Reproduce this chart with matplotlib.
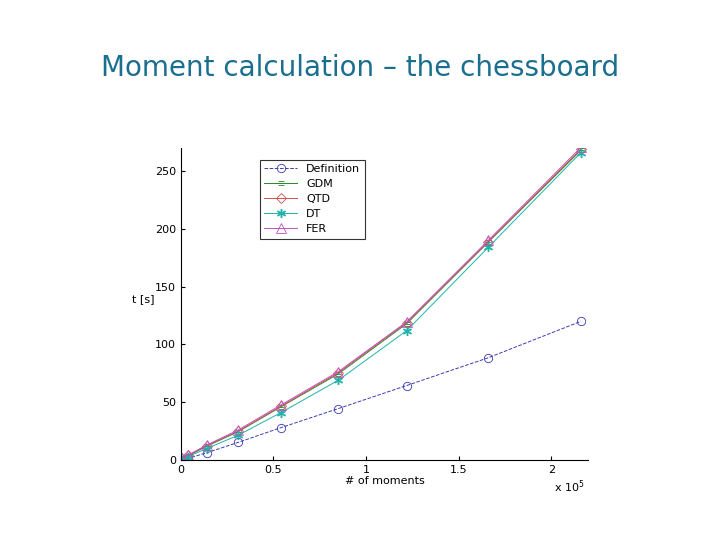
import matplotlib.pyplot as plt

x = [0.005, 0.04, 0.14, 0.31, 0.54, 0.85, 1.22, 1.66, 2.16]
t_def = [0, 1.5, 6.3, 15.3, 28, 44.5, 64.5, 88.5, 120]
t_gdm = [0.8, 3.6, 12, 24.5, 46, 74.5, 118, 188.5, 268]
t_qtd = [1, 4, 12.5, 25, 46.5, 75.5, 119, 189, 269]
t_dt = [0.5, 3, 10, 21.5, 41, 69, 112, 184, 266]
t_fer = [1.5, 4.3, 13, 26, 47.6, 76.4, 119.6, 190, 270.5]

fig = plt.figure(figsize=(7.2, 5.4), dpi=100)
fig.text(0.5, 0.874, 'Moment calculation – the chessboard', ha='center', va='center',
         fontsize=20, color='#1a6e8e')
ax = fig.add_axes([0.251, 0.148, 0.566, 0.578])
kw = dict(lw=0.7, mew=0.6)
ax.plot(x, t_def, color='#3b3bb0', ls='--', marker='o', mfc='none', ms=6, label='Definition', **kw)
ax.plot(x, t_gdm, color='#228b22', marker='$\\equiv$', ms=5, label='GDM', **kw)
ax.plot(x, t_qtd, color='#d05050', marker='D', mfc='none', ms=5, label='QTD', **kw)
ax.plot(x, t_dt, color='#20b2aa', marker='$*$', ms=6, label='DT', **kw)
ax.plot(x, t_fer, color='#c050c0', marker='^', mfc='none', ms=7, label='FER', **kw)
ax.set_xlim(0, 2.2)
ax.set_ylim(0, 270)
ax.set_xticks([0, 0.5, 1, 1.5, 2])
ax.set_xticklabels(['0', '0.5', '1', '1.5', '2'])
ax.set_yticks([0, 50, 100, 150, 200, 250])
ax.spines['top'].set_visible(False)
ax.spines['right'].set_visible(False)
ax.tick_params(labelsize=8, length=3, direction='in')
ax.set_xlabel('# of moments', fontsize=8, labelpad=1)
ax.set_ylabel('t [s]', fontsize=8, rotation=0, labelpad=8)
fig.text(0.77, 0.09, 'x 10$^5$', fontsize=8)
leg = ax.legend(loc='upper left', bbox_to_anchor=(0.18, 0.98), fontsize=8, frameon=True,
                fancybox=False, edgecolor='black', handlelength=3, labelspacing=0.45)
leg.get_frame().set_linewidth(0.8)
fig.savefig('out.png')
